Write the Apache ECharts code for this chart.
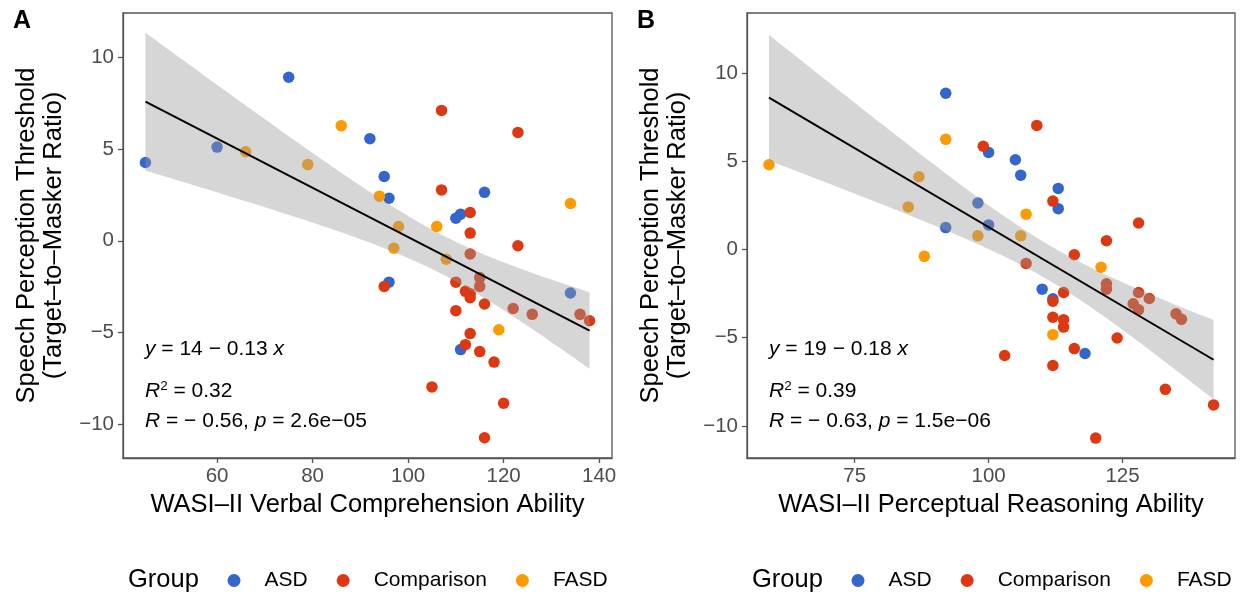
<!DOCTYPE html>
<html><head><meta charset="utf-8">
<script src="https://cdn.jsdelivr.net/npm/echarts@6/dist/echarts.min.js"></script>
<style>html,body{margin:0;padding:0;background:#fff}#c{width:1242px;height:597px}</style>
</head><body><div id="c"></div>
<script>
const groups = ['ASD', 'Comparison', 'FASD'];
const groupColors = ['#3366CC', '#DC3912', '#FF9900'];

// Panel A: WASI-II Verbal Comprehension vs. threshold
const vcASD = [[45,4.26],[60,5.1],[75,8.9],[92,5.56],[95,3.5],[96,2.32],[110,1.23],[111,1.45],[116,2.64],[96,-2.25],[134,-2.84],[111,-5.92]];
const vcComparison = [[107,7.1],[123,5.9],[107,2.77],[113,1.54],[113,0.42],[123,-0.27],[113,-0.72],[115,-2.0],[115,-2.48],[110,-2.25],[95,-2.48],[112,-2.75],[113,-2.88],[113,-3.1],[116,-3.44],[110,-3.8],[122,-3.68],[126,-4.0],[136,-4.0],[138,-4.35],[113,-5.05],[112,-5.65],[115,-6.03],[118,-6.6],[105,-7.95],[120,-8.84],[116,-10.72]];
const vcFASD = [[66,4.85],[79,4.15],[86,6.27],[134,2.03],[94,2.43],[98,0.78],[106,0.78],[97,-0.4],[108,-1.0],[119,-4.84]];

// Panel B: WASI-II Perceptual Reasoning vs. threshold
const prASD = [[92,8.85],[100,5.5],[105,5.08],[106,4.21],[113,3.46],[113,2.31],[98,2.63],[92,1.24],[100,1.39],[110,-2.25],[112,-2.8],[118,-5.9]];
const prComparison = [[109,7.03],[99,5.85],[112,2.74],[128,1.5],[122,0.49],[116,-0.3],[107,-0.79],[122,-1.95],[122,-2.25],[114,-2.44],[128,-2.44],[130,-2.78],[112,-2.93],[127,-3.08],[128,-3.42],[112,-3.84],[114,-3.98],[114,-4.4],[135,-3.65],[136,-3.96],[124,-5.02],[116,-5.62],[103,-6.01],[112,-6.58],[133,-7.93],[142,-8.81],[120,-10.69]];
const prFASD = [[59,4.8],[92,6.24],[87,4.12],[85,2.41],[107,2.0],[98,0.77],[106,0.77],[88,-0.39],[121,-1.01],[112,-4.83]];

const vcTicks = [60, 80, 100, 120, 140];
const prTicks = [75, 100, 125];
const yTicks = [-10, -5, 0, 5, 10];
const vcRange = [40.3, 142.7];
const prRange = [54.9, 146.0];
const yRangeA = [-11.82, 12.4];
const yRangeB = [-11.82, 13.4];

const titleY = 'Speech Perception Threshold\n(Target\u2013to\u2013Masker Ratio)';
const titleXA = 'WASI\u2013II Verbal Comprehension Ability';
const titleXB = 'WASI\u2013II Perceptual Reasoning Ability';
const statsA = ['14 \u2212 0.13', '0.32', '\u2212 0.56', '2.6e\u221205'];
const statsB = ['19 \u2212 0.18', '0.39', '\u2212 0.63', '1.5e\u221206'];

const FONT = '"Liberation Sans", Arial, Helvetica, sans-serif';
const T_CRIT = 2.0117; // t(0.975, df = 47)

function fit(pts) {
  const n = pts.length;
  let mx = 0, my = 0;
  pts.forEach(p => { mx += p[0]; my += p[1]; });
  mx /= n; my /= n;
  let sxx = 0, sxy = 0;
  pts.forEach(p => { sxx += (p[0]-mx)*(p[0]-mx); sxy += (p[0]-mx)*(p[1]-my); });
  const b = sxy / sxx, a = my - b * mx;
  let sse = 0;
  pts.forEach(p => { const r = p[1] - (a + b*p[0]); sse += r*r; });
  const s = Math.sqrt(sse / (n - 2));
  const xs = pts.map(p => p[0]);
  const x0 = Math.min(...xs), x1 = Math.max(...xs);
  const band = [];
  const N = 80;
  for (let i = 0; i <= N; i++) {
    const x = x0 + (x1 - x0) * i / N;
    const yh = a + b * x;
    const se = s * Math.sqrt(1/n + (x-mx)*(x-mx)/sxx);
    band.push([x, yh - T_CRIT*se, yh + T_CRIT*se]);
  }
  return { line: [[x0, a + b*x0], [x1, a + b*x1]], band };
}

const fitA = fit([].concat(vcASD, vcComparison, vcFASD));
const fitB = fit([].concat(prASD, prComparison, prFASD));

const BORDER = '#555555';
const minusFmt = v => String(v).replace('-', '\u2212');
function xAxis(idx, range, ticks, name) {
  return {
    type: 'value', gridIndex: idx, min: range[0], max: range[1],
    name, nameLocation: 'middle', nameGap: 32,
    nameTextStyle: { fontFamily: FONT, fontSize: 25.5, color: '#000' },
    splitLine: { show: false },
    axisLine: { show: true, onZero: false, lineStyle: { color: BORDER, width: 1.3 } },
    axisTick: { show: true, length: 5, lineStyle: { color: BORDER, width: 1.3 }, customValues: ticks },
    axisLabel: { fontFamily: FONT, fontSize: 20.5, color: '#4d4d4d', margin: 8, customValues: ticks, formatter: minusFmt }
  };
}
function yAxis(idx, range, ticks) {
  return {
    type: 'value', gridIndex: idx, min: range[0], max: range[1],
    name: titleY, nameLocation: 'middle', nameGap: 56,
    nameTextStyle: { fontFamily: FONT, fontSize: 25.5, color: '#000', lineHeight: 27 },
    splitLine: { show: false },
    axisLine: { show: true, onZero: false, lineStyle: { color: BORDER, width: 1.3 } },
    axisTick: { show: true, length: 5, lineStyle: { color: BORDER, width: 1.3 }, customValues: ticks },
    axisLabel: { fontFamily: FONT, fontSize: 20.5, color: '#4d4d4d', margin: 9, customValues: ticks, formatter: minusFmt }
  };
}

function panelSeries(idx, sets, f) {
  const out = sets.map((d, g) => ({
    type: 'scatter', name: groups[g], xAxisIndex: idx, yAxisIndex: idx,
    data: d, symbol: 'circle', symbolSize: 11.5, z: 2,
    itemStyle: { color: groupColors[g], opacity: 1 },
    emphasis: { disabled: true }
  }));
  out.push({
    type: 'custom', xAxisIndex: idx, yAxisIndex: idx, z: 3, silent: true,
    data: f.band, encode: { x: 0, y: [1, 2] },
    renderItem: function (params, api) {
      if (params.dataIndex !== 0) return;
      const pts = [];
      f.band.forEach(b => pts.push(api.coord([b[0], b[2]])));
      for (let i = f.band.length - 1; i >= 0; i--) pts.push(api.coord([f.band[i][0], f.band[i][1]]));
      return { type: 'polygon', shape: { points: pts }, style: { fill: 'rgba(153,153,153,0.4)' } };
    }
  });
  out.push({
    type: 'line', xAxisIndex: idx, yAxisIndex: idx, z: 4, silent: true,
    data: f.line, symbol: 'none', lineStyle: { color: '#000', width: 2 }
  });
  return out;
}

function statText(left, stats) {
  const FS = 21;
  const base = { fontFamily: FONT, fontSize: FS, fill: '#000' };
  return [
    { type: 'text', left: left, top: 339, style: Object.assign({}, base, {
      text: '{i|y} = ' + stats[0] + ' {i|x}',
      rich: { i: { fontStyle: 'italic', fontFamily: FONT, fontSize: FS } } }) },
    { type: 'text', left: left, top: 379, style: Object.assign({}, base, {
      text: '{i|R}{s|2} = ' + stats[1],
      rich: { i: { fontStyle: 'italic', fontFamily: FONT, fontSize: FS, lineHeight: 25 },
              s: { fontFamily: FONT, fontSize: 13.5, verticalAlign: 'top', lineHeight: 14 } } }) },
    { type: 'text', left: left, top: 411, style: Object.assign({}, base, {
      text: '{i|R} = ' + stats[2] + ', {i|p} = ' + stats[3],
      rich: { i: { fontStyle: 'italic', fontFamily: FONT, fontSize: FS } } }) }
  ];
}

function legend(left) {
  return {
    data: groups, left: left, top: 570, orient: 'horizontal', padding: 0,
    icon: 'circle', itemWidth: 13, itemHeight: 13, itemGap: 29,
    selectedMode: false,
    textStyle: { fontFamily: FONT, fontSize: 21, color: '#000', padding: [0, 0, 0, 19] }
  };
}

const chart = echarts.init(document.getElementById('c'), null, { renderer: 'canvas' });
chart.setOption({
  animation: false,
  backgroundColor: '#fff',
  grid: [
    { left: 123, top: 13, width: 489, height: 445, show: true, borderColor: BORDER, borderWidth: 1.3, backgroundColor: '#fff' },
    { left: 747, top: 13, width: 488, height: 445, show: true, borderColor: BORDER, borderWidth: 1.3, backgroundColor: '#fff' }
  ],
  xAxis: [xAxis(0, vcRange, vcTicks, titleXA), xAxis(1, prRange, prTicks, titleXB)],
  yAxis: [yAxis(0, yRangeA, yTicks), yAxis(1, yRangeB, yTicks)],
  legend: [legend(227.5), legend(851.5)],
  series: [].concat(
    panelSeries(0, [vcASD, vcComparison, vcFASD], fitA),
    panelSeries(1, [prASD, prComparison, prFASD], fitB)
  ),
  graphic: [].concat(
    [
      { type: 'text', left: 13, top: 9, style: { text: 'A', fontFamily: FONT, fontSize: 25, fontWeight: 'bold', fill: '#000' } },
      { type: 'text', left: 637, top: 9, style: { text: 'B', fontFamily: FONT, fontSize: 25, fontWeight: 'bold', fill: '#000' } },
      { type: 'text', left: 128, top: 567, style: { text: 'Group', fontFamily: FONT, fontSize: 25.5, fill: '#000' } },
      { type: 'text', left: 752, top: 567, style: { text: 'Group', fontFamily: FONT, fontSize: 25.5, fill: '#000' } }
    ],
    statText(145, statsA),
    statText(769, statsB)
  )
});
</script></body></html>
